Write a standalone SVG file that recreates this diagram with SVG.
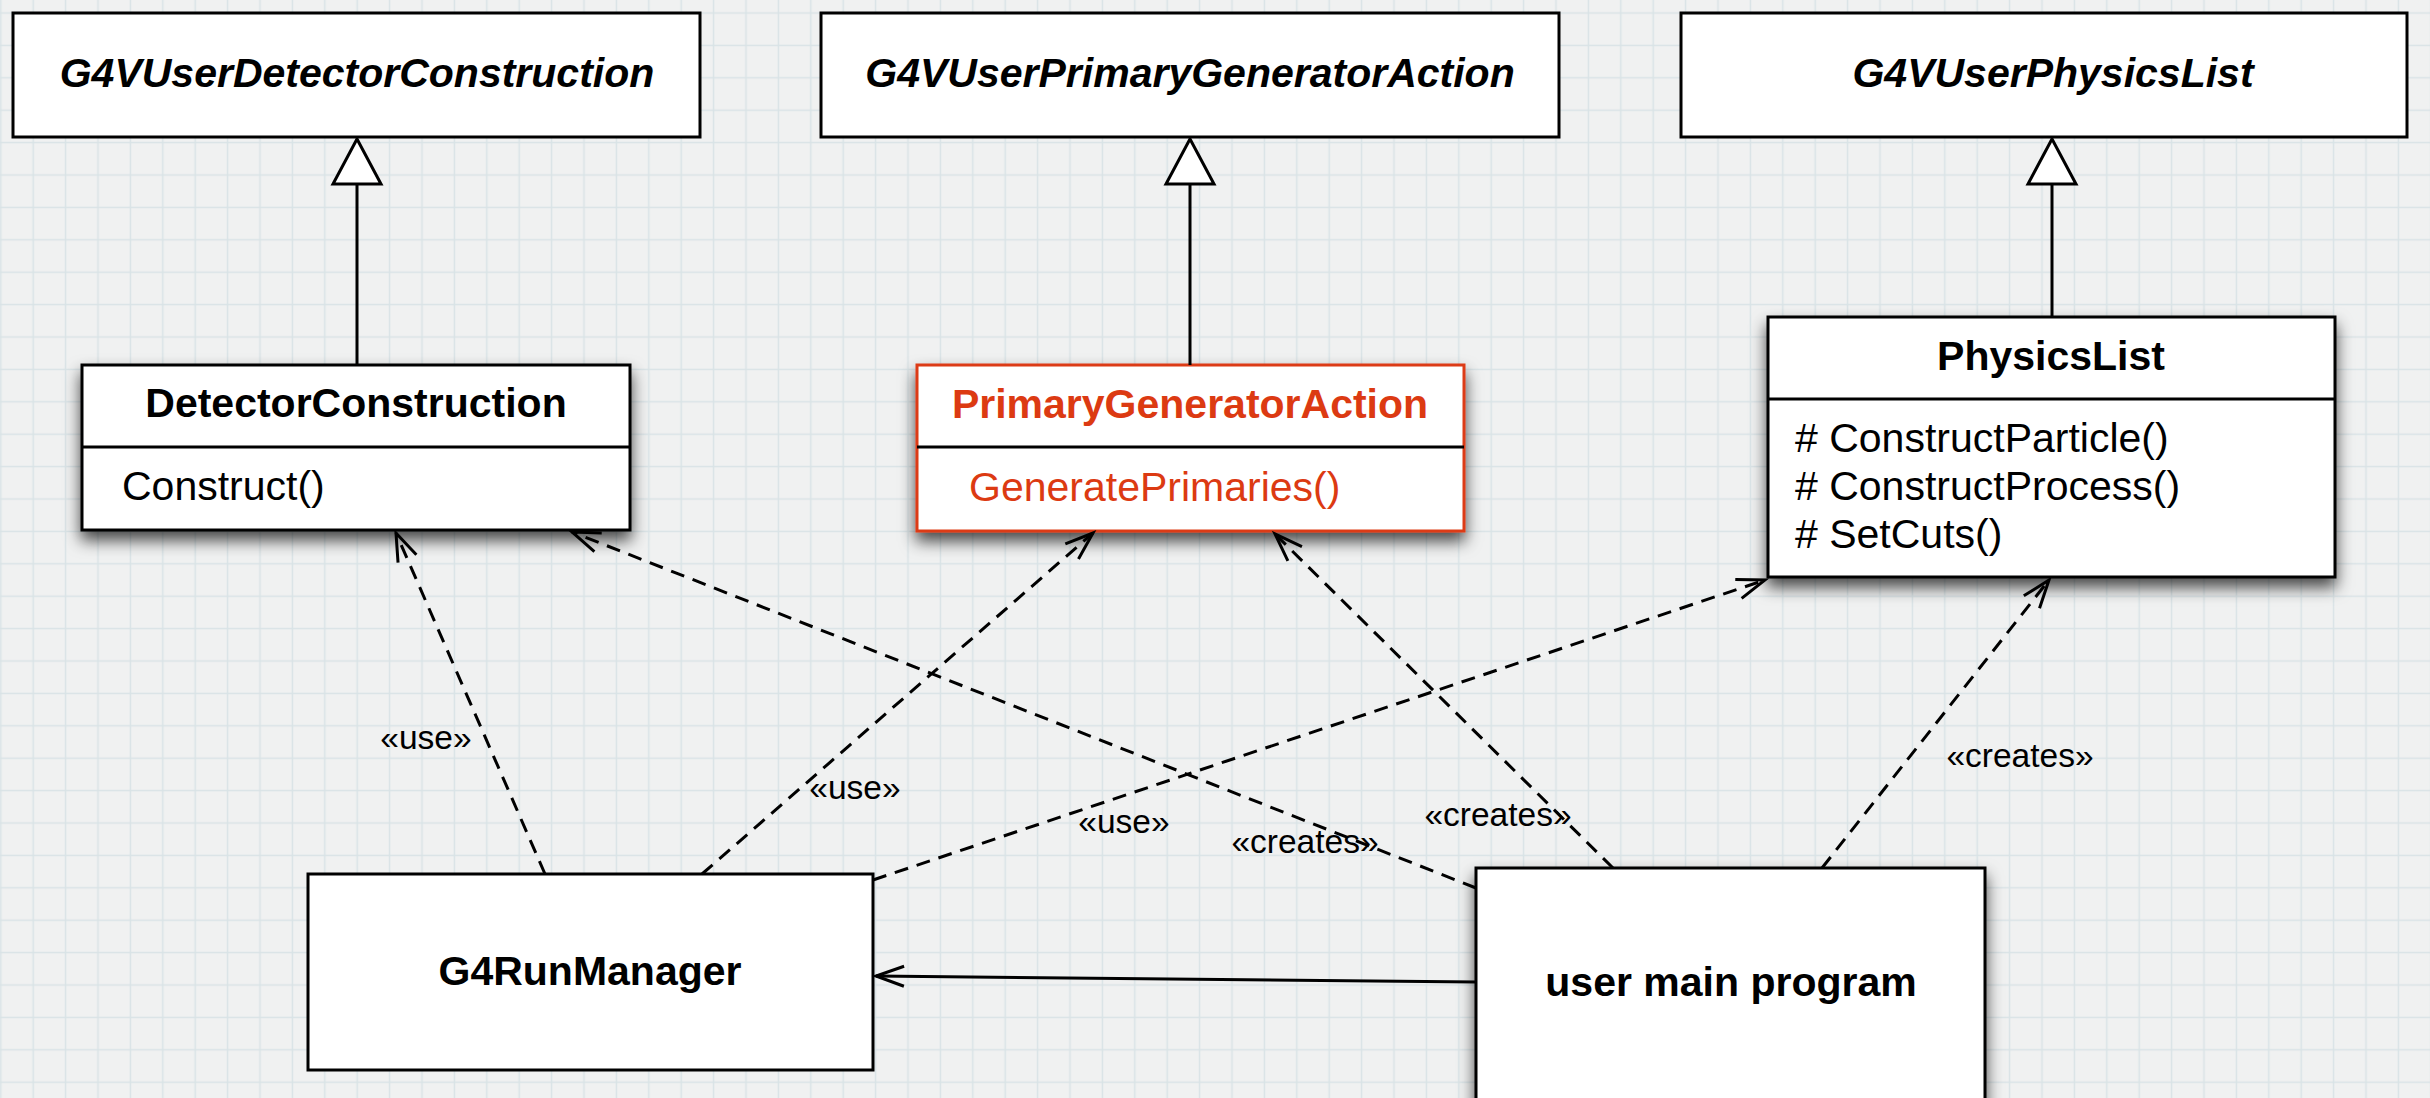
<svg xmlns="http://www.w3.org/2000/svg" width="2430" height="1098" viewBox="0 0 2430 1098">
  <defs>
    <pattern id="grid" patternUnits="userSpaceOnUse" x="17" y="-3.2" width="32.4" height="32.4">
      <path d="M16.2,0 V32.4 M0,16.2 H32.4" stroke="#d9e3e6" stroke-width="1.5" fill="none"/>
    </pattern>
    <filter id="shadow" x="-10%" y="-15%" width="120%" height="145%">
      <feDropShadow dx="0" dy="9" stdDeviation="8" flood-color="#000" flood-opacity="0.7"/>
    </filter>
    <marker id="open" markerUnits="userSpaceOnUse" orient="auto" markerWidth="1" markerHeight="1" style="overflow:visible">
      <path d="M-28,-10 L0,0 L-28,10" fill="none" stroke="#000" stroke-width="3" stroke-dasharray="none"/>
    </marker>
    <style>
      .box { fill: #fff; stroke: #000; stroke-width: 3; }
      .red { stroke: #dc3a12; }
      .sh { filter: url(#shadow); }
      .div { stroke: #000; stroke-width: 3; }
      .t { font-family: "Liberation Sans", Arial, Helvetica, sans-serif; font-size: 41px; fill: #000; }
      .b { font-weight: bold; }
      .i { font-style: italic; }
      .c { text-anchor: middle; }
      .rt { fill: #dc3a12; }
      .lbl { font-family: "Liberation Sans", Arial, Helvetica, sans-serif; font-size: 33.5px; fill: #000; }
      .dep { fill: none; stroke: #000; stroke-width: 3; stroke-dasharray: 14 9; marker-end: url(#open); }
      .assoc { fill: none; stroke: #000; stroke-width: 3; marker-end: url(#open); }
      .gen { fill: none; stroke: #000; stroke-width: 3; }
      .tri { fill: #fff; stroke: #000; stroke-width: 3; stroke-linejoin: miter; }
    </style>
  </defs>

  <!-- graph paper background -->
  <rect x="0" y="0" width="2430" height="1098" fill="#f0f1f1"/>
  <rect x="0" y="0" width="2430" height="1098" fill="url(#grid)"/>

  <!-- abstract base classes -->
  <g id="g4vuserdetectorconstruction">
    <rect class="box" x="13" y="13" width="687" height="124"/>
    <text class="t b i c" x="357" y="87">G4VUserDetectorConstruction</text>
  </g>
  <g id="g4vuserprimarygeneratoraction">
    <rect class="box" x="821" y="13" width="738" height="124"/>
    <text class="t b i c" x="1190" y="87">G4VUserPrimaryGeneratorAction</text>
  </g>
  <g id="g4vuserphysicslist">
    <rect class="box" x="1681" y="13" width="726" height="124"/>
    <text class="t b i c" x="2053" y="87">G4VUserPhysicsList</text>
  </g>

  <!-- user classes -->
  <g id="detectorconstruction">
    <rect class="box sh" x="82" y="365" width="548" height="165"/>
    <line class="div" x1="82" y1="447" x2="630" y2="447"/>
    <text class="t b c" x="356" y="417">DetectorConstruction</text>
    <text class="t" x="122" y="500">Construct()</text>
  </g>
  <g id="primarygeneratoraction">
    <rect class="box red sh" x="917" y="365" width="547" height="166"/>
    <line class="div red" x1="917" y1="447" x2="1464" y2="447"/>
    <text class="t b c rt" x="1190" y="418">PrimaryGeneratorAction</text>
    <text class="t rt" x="969" y="501">GeneratePrimaries()</text>
  </g>
  <g id="physicslist">
    <rect class="box sh" x="1768" y="317" width="567" height="260"/>
    <line class="div" x1="1768" y1="399" x2="2335" y2="399"/>
    <text class="t b c" x="2051" y="370">PhysicsList</text>
    <text class="t" x="1795" y="452"># ConstructParticle()</text>
    <text class="t" x="1795" y="500"># ConstructProcess()</text>
    <text class="t" x="1795" y="548"># SetCuts()</text>
  </g>

  <g id="g4runmanager">
    <rect class="box" x="308" y="874" width="565" height="196"/>
    <text class="t b c" x="590" y="985">G4RunManager</text>
  </g>
  <g id="usermainprogram">
    <rect class="box sh" x="1476" y="868" width="509" height="260"/>
    <text class="t b c" x="1731" y="996">user main program</text>
  </g>

  <!-- connectors -->
  <g id="connectors">
    <!-- generalization -->
    <line class="gen" x1="357" y1="184" x2="357" y2="365"/>
    <polygon class="tri" points="357,139 333,184 381,184"/>
    <line class="gen" x1="1190" y1="184" x2="1190" y2="365"/>
    <polygon class="tri" points="1190,139 1166,184 1214,184"/>
    <line class="gen" x1="2052" y1="184" x2="2052" y2="317"/>
    <polygon class="tri" points="2052,139 2028,184 2076,184"/>

    <!-- «use» from the run manager -->
    <line class="dep" x1="545" y1="874" x2="396" y2="533"/>
    <line class="dep" x1="702" y1="874" x2="1093" y2="533"/>
    <line class="dep" x1="873" y1="880" x2="1765" y2="580"/>

    <!-- «creates» from the main program -->
    <line class="dep" x1="1476" y1="888" x2="572" y2="532"/>
    <line class="dep" x1="1613" y1="868" x2="1275" y2="534"/>
    <line class="dep" x1="1822" y1="868" x2="2049" y2="580"/>

    <!-- main program owns the run manager -->
    <line class="assoc" x1="1476" y1="982" x2="876" y2="976"/>

    <text class="lbl c" x="426" y="749">«use»</text>
    <text class="lbl c" x="855" y="799">«use»</text>
    <text class="lbl c" x="1124" y="833">«use»</text>
    <text class="lbl c" x="1305" y="853">«creates»</text>
    <text class="lbl c" x="1498" y="826">«creates»</text>
    <text class="lbl c" x="2020" y="767">«creates»</text>
  </g>
</svg>
